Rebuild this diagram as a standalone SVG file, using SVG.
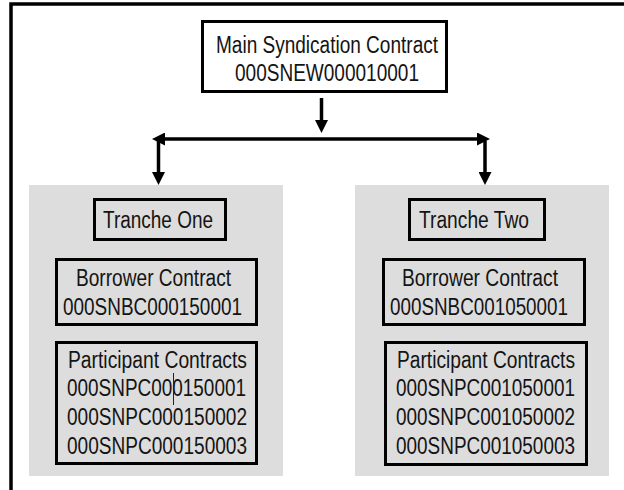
<svg xmlns="http://www.w3.org/2000/svg" width="624" height="490" viewBox="0 0 624 490">
<style>
.box{fill:none;stroke:#000;stroke-width:3}
.mainbox{fill:#fff;stroke:#000;stroke-width:3}
.panel{fill:#dddddd}
.t{font-family:"Liberation Sans",Arial,sans-serif;font-size:23px;fill:#141414;lengthAdjust:spacingAndGlyphs}
.conn{stroke:#000;stroke-width:3.5;fill:none}
</style>
<defs>
<marker id="ah" markerUnits="userSpaceOnUse" markerWidth="14" markerHeight="13" refX="5" refY="6.5" orient="auto-start-reverse" viewBox="0 0 14 13">
<path d="M0,0 L13,6.5 L0,13 z" fill="#000"/>
</marker>
</defs>
<rect width="624" height="490" fill="#fff"/>
<path d="M11,495 L11,4 L630,4" fill="none" stroke="#000" stroke-width="3.5"/>

<g id="panel-one"><rect class="panel" x="29" y="185" width="254" height="291"/></g>
<g id="panel-two"><rect class="panel" x="355" y="185" width="254" height="291"/></g>

<g id="main">
<rect class="mainbox" x="202.5" y="21.5" width="244" height="70"/>
<text class="t" x="216" y="53" textLength="222" lengthAdjust="spacingAndGlyphs">Main Syndication Contract</text>
<text class="t" x="235" y="81" textLength="184" lengthAdjust="spacingAndGlyphs">000SNEW000010001</text>
</g>

<g id="tranche-one">
<rect class="box" x="94.5" y="199.5" width="131" height="40"/>
<text class="t" x="103" y="228" textLength="110" lengthAdjust="spacingAndGlyphs">Tranche One</text>
</g>
<g id="borrower-one">
<rect class="box" x="56.5" y="259.5" width="200" height="65"/>
<text class="t" x="76" y="286" textLength="155" lengthAdjust="spacingAndGlyphs">Borrower Contract</text>
<text class="t" x="63" y="315" textLength="179" lengthAdjust="spacingAndGlyphs">000SNBC000150001</text>
</g>
<g id="participant-one">
<rect class="box" x="56.5" y="342.5" width="200" height="121"/>
<text class="t" x="68" y="368" textLength="179" lengthAdjust="spacingAndGlyphs">Participant Contracts</text>
<text class="t" x="67" y="396" textLength="179" lengthAdjust="spacingAndGlyphs">000SNPC000150001</text>
<text class="t" x="67" y="425" textLength="180" lengthAdjust="spacingAndGlyphs">000SNPC000150002</text>
<text class="t" x="67" y="454" textLength="180" lengthAdjust="spacingAndGlyphs">000SNPC000150003</text>
<line x1="173.5" y1="373" x2="173.5" y2="405" stroke="#222" stroke-width="1"/>
</g>

<g id="tranche-two">
<rect class="box" x="409.5" y="199.5" width="135" height="40"/>
<text class="t" x="419" y="228" textLength="110" lengthAdjust="spacingAndGlyphs">Tranche Two</text>
</g>
<g id="borrower-two">
<rect class="box" x="383.5" y="259.5" width="201" height="65"/>
<text class="t" x="402" y="286" textLength="156" lengthAdjust="spacingAndGlyphs">Borrower Contract</text>
<text class="t" x="390" y="315" textLength="178" lengthAdjust="spacingAndGlyphs">000SNBC001050001</text>
</g>
<g id="participant-two">
<rect class="box" x="385.5" y="342.5" width="201" height="122"/>
<text class="t" x="397" y="368" textLength="178" lengthAdjust="spacingAndGlyphs">Participant Contracts</text>
<text class="t" x="396" y="396" textLength="179" lengthAdjust="spacingAndGlyphs">000SNPC001050001</text>
<text class="t" x="396" y="425" textLength="179" lengthAdjust="spacingAndGlyphs">000SNPC001050002</text>
<text class="t" x="396" y="454" textLength="179" lengthAdjust="spacingAndGlyphs">000SNPC001050003</text>
</g>

<g id="connectors">
<line class="conn" x1="321.5" y1="98" x2="321.5" y2="125" marker-end="url(#ah)"/>
<line class="conn" x1="160" y1="139" x2="482" y2="139" marker-start="url(#ah)" marker-end="url(#ah)"/>
<line class="conn" x1="158.5" y1="141" x2="158.5" y2="177" marker-end="url(#ah)"/>
<line class="conn" x1="485" y1="141" x2="485" y2="177" marker-end="url(#ah)"/>
</g>
</svg>
